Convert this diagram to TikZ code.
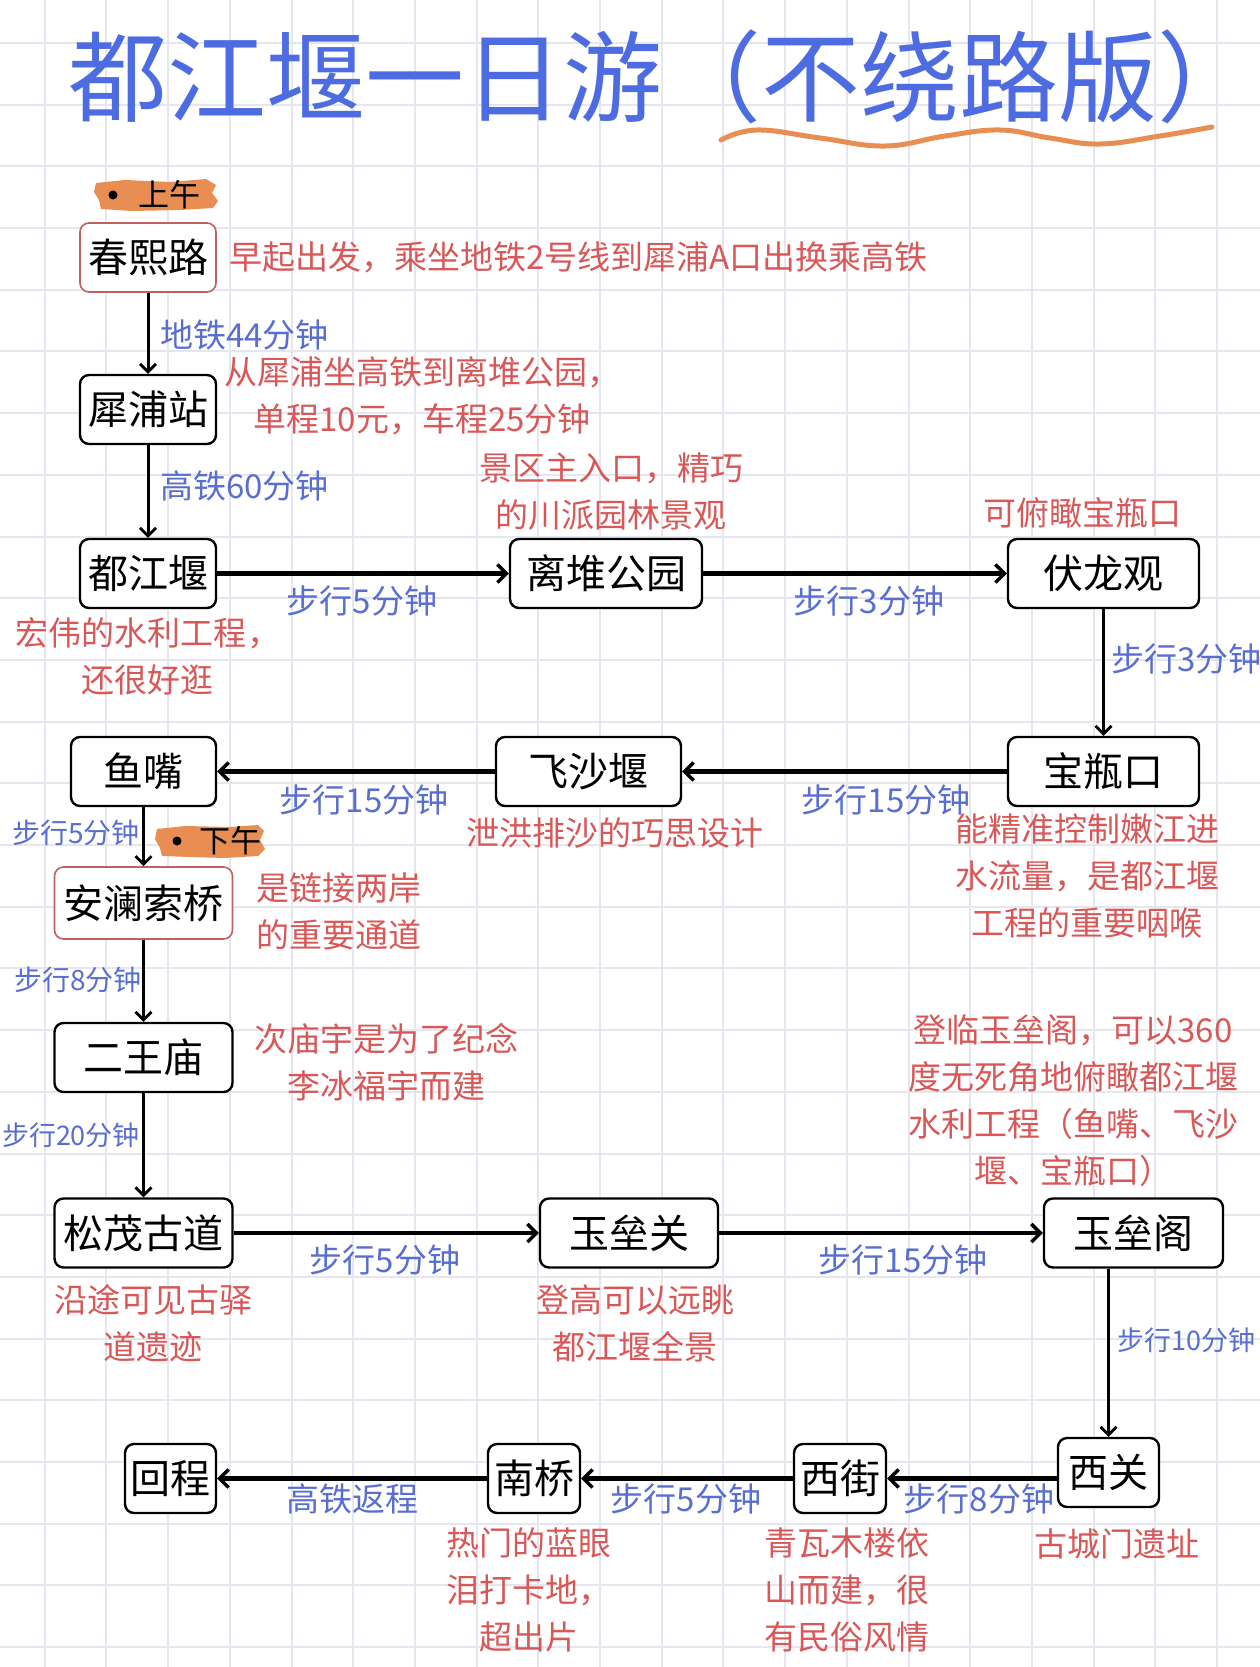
\documentclass[tikz,border=0pt]{standalone}
\usepackage{fontspec}
\setmainfont{Noto Sans CJK SC}
\usetikzlibrary{arrows.meta,calc,shadows}
\definecolor{titleblue}{RGB}{78,108,226}
\definecolor{annred}{RGB}{216,88,88}
\definecolor{lblblue}{RGB}{88,110,208}
\definecolor{gridc}{RGB}{230,230,238}
\definecolor{hl}{RGB}{232,142,82}
\definecolor{boxred}{RGB}{192,96,96}
\begin{document}
\begin{tikzpicture}[x=1pt,y=-1pt,
  place/.style={draw=black, line width=2.4pt, rounded corners=9pt, fill=white,
    minimum height=69pt, inner sep=0pt, font=\fontsize{40}{48}\selectfont},
  redplace/.style={place, draw=boxred, line width=1.6pt},
  ann/.style={text=annred, font=\fontsize{33}{47}\selectfont, align=center, inner sep=0pt},
  lbl/.style={text=lblblue, font=\fontsize{33}{40}\selectfont, inner sep=0pt},
  slbl/.style={text=lblblue, font=\fontsize{28}{34}\selectfont, inner sep=0pt},
  hconn/.style={line width=4.2pt, -{Straight Barb[length=9pt,width=18pt,line width=3.4pt]}},
  vconn/.style={line width=3pt, -{Straight Barb[length=8pt,width=16pt,line width=2.8pt]}},
  tag/.style={font=\fontsize{31}{36}\selectfont, inner sep=0pt, anchor=west}
]
% background and grid
\fill[white] (0,0) rectangle (1260,1667);
\useasboundingbox (0,0) rectangle (1260,1667);
\foreach \k in {0,...,19} {\draw[gridc, line width=2pt] ({44.7+61.7*\k},0) -- ({44.7+61.7*\k},1667);}
\foreach \k in {0,...,26} {\draw[gridc, line width=2pt] (0,{42.9+61.7*\k}) -- (1260,{42.9+61.7*\k});}

% title
\node[anchor=west, text=titleblue, font=\fontsize{99}{110}\selectfont, inner sep=0pt] (title) at (68,77) {都江堰一日游（不绕路版）};
\draw[hl, line width=5pt, line cap=round] plot[smooth, tension=0.7] coordinates {(721,140) (757,130) (820,138) (885,146) (945,136) (1000,130) (1050,138) (1100,144) (1160,136) (1212,127)};

% morning / afternoon tags
\fill[hl] (96,183) -- (125,180) -- (170,182) -- (206,179) -- (216,185) -- (212,193) -- (218,201) -- (213,208) -- (180,210) -- (132,211) -- (101,209) -- (99,200) -- (94,192) -- cycle;
\fill[black] (113,195) circle (4.5);
\node[tag] (am) at (138,195) {上午};
\fill[hl] (157,829) -- (185,826) -- (230,827) -- (258,825) -- (264,831) -- (260,840) -- (265,849) -- (258,856) -- (225,858) -- (190,857) -- (162,856) -- (160,848) -- (155,839) -- cycle;
\fill[black] (177,841) circle (4.5);
\node[tag] (pm) at (199,841) {下午};

% places
\node[redplace, minimum width=136pt] (chunxi) at (148,257.5) {春熙路};
\node[place, minimum width=136pt] (xipu) at (148,409.5) {犀浦站};
\node[place, minimum width=136pt] (djy) at (148,573.5) {都江堰};
\node[place, minimum width=192pt] (lidui) at (606,573.5) {离堆公园};
\node[place, minimum width=191pt] (fulong) at (1103.5,573.5) {伏龙观};
\node[place, minimum width=191pt] (baoping) at (1103.5,771.5) {宝瓶口};
\node[place, minimum width=185pt] (feisha) at (588.5,771.5) {飞沙堰};
\node[place, minimum width=145pt] (yuzui) at (143.5,771.5) {鱼嘴};
\node[redplace, minimum width=178pt, minimum height=72pt] (anlan) at (143.5,903) {安澜索桥};
\node[place, minimum width=178pt] (erwang) at (143.5,1057.5) {二王庙};
\node[place, minimum width=178pt] (songmao) at (143.5,1233) {松茂古道};
\node[place, minimum width=178pt] (yuleiguan) at (629,1233) {玉垒关};
\node[place, minimum width=179pt] (yuleige) at (1133.5,1233) {玉垒阁};
\node[place, minimum width=101pt] (xiguan) at (1108.5,1472.5) {西关};
\node[place, minimum width=92pt] (xijie) at (840,1478.5) {西街};
\node[place, minimum width=92pt] (nanqiao) at (534,1478.5) {南桥};
\node[place, minimum width=91pt] (huicheng) at (170.5,1478.5) {回程};

% connectors
\draw[vconn] (chunxi) -- (xipu);
\draw[vconn] (xipu) -- (djy);
\draw[hconn] (djy) -- (lidui);
\draw[hconn] (lidui) -- (fulong);
\draw[vconn] (fulong) -- (baoping);
\draw[hconn] (baoping) -- (feisha);
\draw[hconn] (feisha) -- (yuzui);
\draw[vconn] (yuzui) -- (anlan);
\draw[vconn] (anlan) -- (erwang);
\draw[vconn] (erwang) -- (songmao);
\draw[hconn] (songmao) -- (yuleiguan);
\draw[hconn] (yuleiguan) -- (yuleige);
\draw[vconn] (xiguan.north |- yuleige.south) -- (xiguan.north);
\draw[hconn] (xiguan.west |- xijie.east) -- (xijie.east);
\draw[hconn] (xijie) -- (nanqiao);
\draw[hconn] (nanqiao) -- (huicheng);

% connector labels
\node[lbl, anchor=west] (l1) at (160,335) {地铁44分钟};
\node[lbl, anchor=west] (l2) at (160,486) {高铁60分钟};
\node[lbl] (l3) at (362,601) {步行5分钟};
\node[lbl] (l4) at (869,601) {步行3分钟};
\node[lbl, anchor=west] (l5) at (1111,659) {步行3分钟};
\node[lbl] (l6) at (886,800) {步行15分钟};
\node[lbl] (l7) at (364,800) {步行15分钟};
\node[slbl] (l8) at (76,833) {步行5分钟};
\node[slbl] (l9) at (78,980) {步行8分钟};
\node[slbl, font=\fontsize{27}{32}\selectfont] (l10) at (71,1135) {步行20分钟};
\node[lbl] (l11) at (385,1260) {步行5分钟};
\node[lbl] (l12) at (903,1260) {步行15分钟};
\node[slbl, font=\fontsize{27}{32}\selectfont] (l13) at (1186,1340) {步行10分钟};
\node[lbl] (l14) at (979,1499) {步行8分钟};
\node[lbl] (l15) at (686,1499) {步行5分钟};
\node[lbl] (l16) at (352,1499) {高铁返程};

% annotations
\node[ann, anchor=west] (a1) at (229,257) {早起出发，乘坐地铁2号线到犀浦A口出换乘高铁};
\node[ann] (a2) at (422,396) {从犀浦坐高铁到离堆公园，\\单程10元，车程25分钟};
\node[ann] (a3) at (611,492) {景区主入口，精巧\\的川派园林景观};
\node[ann] (a4) at (1082,513) {可俯瞰宝瓶口};
\node[ann] (a5) at (148,656) {宏伟的水利工程，\\还很好逛};
\node[ann] (a6) at (1087,876) {能精准控制嫩江进\\水流量，是都江堰\\工程的重要咽喉};
\node[ann] (a7) at (615,833) {泄洪排沙的巧思设计};
\node[ann] (a8) at (339,911) {是链接两岸\\的重要通道};
\node[ann] (a9) at (386,1062) {次庙宇是为了纪念\\李冰福宇而建};
\node[ann] (a10) at (1073,1101) {登临玉垒阁，可以360\\度无死角地俯瞰都江堰\\水利工程（鱼嘴、飞沙\\堰、宝瓶口）};
\node[ann] (a11) at (153,1323) {沿途可见古驿\\道遗迹};
\node[ann] (a12) at (635,1323) {登高可以远眺\\都江堰全景};
\node[ann] (a13) at (1117,1544) {古城门遗址};
\node[ann] (a14) at (847,1590) {青瓦木楼依\\山而建，很\\有民俗风情};
\node[ann] (a15) at (529,1590) {热门的蓝眼\\泪打卡地，\\超出片};
\end{tikzpicture}
\end{document}
